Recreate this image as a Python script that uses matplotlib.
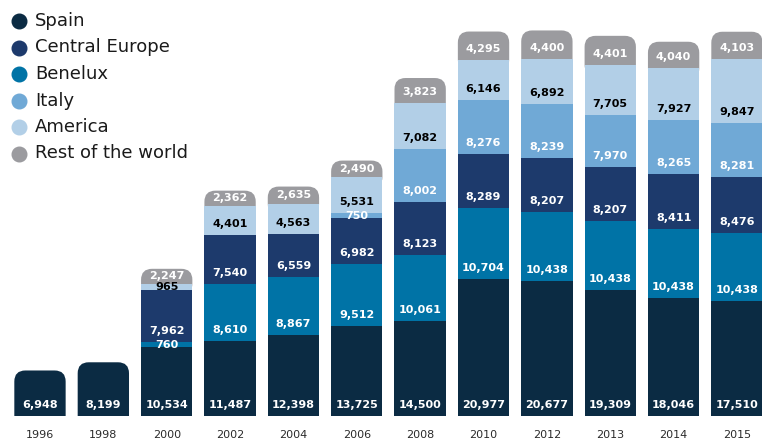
import matplotlib
matplotlib.use("Agg")
import matplotlib.pyplot as plt
from matplotlib.patches import FancyBboxPatch, Rectangle
from matplotlib.lines import Line2D

years = ["1996", "1998", "2000", "2002", "2004", "2006", "2008", "2010", "2012", "2013", "2014", "2015"]
spain = [6948, 8199, 10534, 11487, 12398, 13725, 14500, 20977, 20677, 19309, 18046, 17510]
benelux = [0, 0, 760, 8610, 8867, 9512, 10061, 10704, 10438, 10438, 10438, 10438]
central_europe = [0, 0, 7962, 7540, 6559, 6982, 8123, 8289, 8207, 8207, 8411, 8476]
italy = [0, 0, 0, 0, 0, 750, 8002, 8276, 8239, 7970, 8265, 8281]
america = [0, 0, 965, 4401, 4563, 5531, 7082, 6146, 6892, 7705, 7927, 9847]
rest_world = [0, 0, 2247, 2362, 2635, 2490, 3823, 4295, 4400, 4401, 4040, 4103]

stack_order = [
    ("Spain", spain, "#0b2b43", "white"),
    ("Benelux", benelux, "#0073a6", "white"),
    ("Central Europe", central_europe, "#1d3a6c", "white"),
    ("Italy", italy, "#70a9d6", "white"),
    ("America", america, "#b2cfe7", "black"),
    ("Rest of the world", rest_world, "#9b9b9f", "white"),
]
legend_order = ["Spain", "Central Europe", "Benelux", "Italy", "America", "Rest of the world"]
colors = {n: c for n, _, c, _ in stack_order}

W, H = 762, 441
fig = plt.figure(figsize=(W / 100, H / 100), dpi=100)
ax = fig.add_axes([0, 25 / H, 1, 1 - 25 / H])
ax.set_xlim(-0.631, 11.395)
ax.set_ylim(0, 63500)
ax.axis("off")

# unit conversions
px_x = (11.395 + 0.631) / W           # data x per pixel
px_y = 63500 / (H - 25)               # data y per pixel
bw = 0.81
radius_px = 11
rx = radius_px * px_x
ry = radius_px * px_y

for i, yr in enumerate(years):
    bottom = 0
    segs = []
    for name, vals, col, tcol in stack_order:
        v = vals[i]
        if v > 0:
            segs.append((bottom, v, col, tcol))
            bottom += v
    for k, (b, v, col, tcol) in enumerate(segs):
        x0 = i - bw / 2
        if k == len(segs) - 1:
            p = FancyBboxPatch((x0, b - ry), bw, v + ry,
                               boxstyle=f"round,pad=0,rounding_size={rx}",
                               mutation_aspect=ry / rx, fc=col, ec="none",
                               zorder=1, clip_on=True)
        else:
            p = Rectangle((x0, b), bw, v, fc=col, ec="none", zorder=2)
        ax.add_patch(p)
        ly = b + min(11 * px_y, v / 2)
        ax.text(i, ly, f"{v:,}", ha="center", va="center", color=tcol,
                fontsize=8, fontweight="bold", zorder=5)
    ax.text(i, -18.5 * px_y, yr, ha="center", va="center", color="#2b2b2b",
            fontsize=8, clip_on=False)

# legend
for j, name in enumerate(legend_order):
    ypx = 21 + j * 26.5
    yf = 1 - ypx / H
    fig.add_artist(Line2D([19 / W], [yf], marker="o", markersize=10.5,
                          color=colors[name], linestyle="none",
                          transform=fig.transFigure))
    fig.text(35 / W, yf, name, ha="left", va="center", fontsize=13,
             color="#1a1a1a")

fig.savefig("out.png", dpi=100)
